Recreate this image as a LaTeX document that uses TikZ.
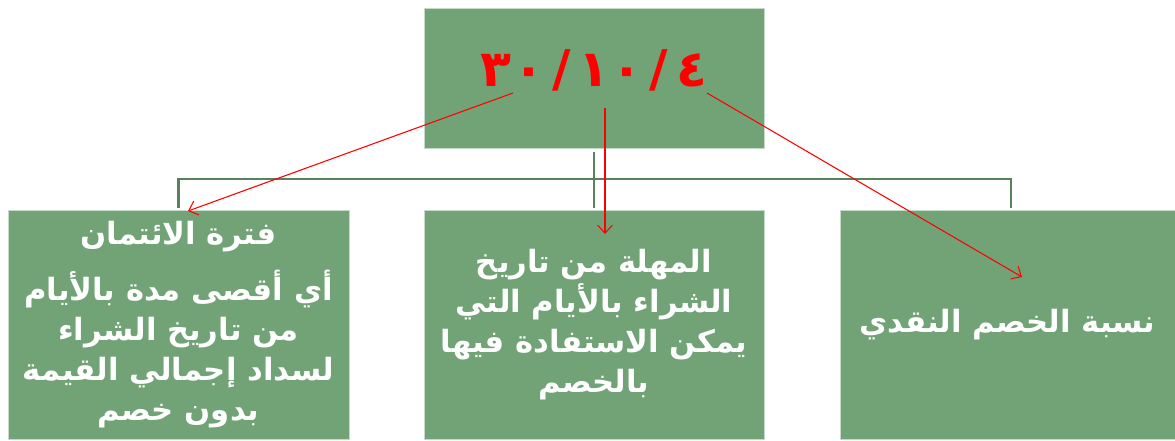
\documentclass[tikz,border=0pt]{standalone}
\usepackage{fontspec}
\setmainfont{DejaVu Sans}
\newfontfamily\arabicfont[Script=Arabic]{DejaVu Sans}
\TeXXeTstate=1
\usetikzlibrary{arrows.meta}
\definecolor{boxgreen}{RGB}{113,163,119}
\definecolor{linegreen}{RGB}{88,130,90}
\newcommand\ar[1]{\beginR #1\endR}
\newcommand\dg[1]{\makebox[24.5pt]{#1}}
\begin{document}
\begin{tikzpicture}[x=0.75pt,y=-0.75pt,
  box/.style={fill=boxgreen, draw=white!60!boxgreen, line width=0.6pt, inner sep=0pt,
    align=center, text=white, font=\arabicfont\bfseries\fontsize{23}{30}\selectfont},
  conn/.style={draw=linegreen, line width=1.6pt},
  redarrow/.style={draw=red, line width=0.8pt, -{Straight Barb[length=6pt,width=11pt]}}]
\useasboundingbox (0,0) rectangle (1175,441);
% boxes
\node[box, minimum width=340*0.75pt, minimum height=140*0.75pt] (date) at (594,78) {};
\node[text=red, inner sep=0pt, font=\arabicfont\bfseries\fontsize{38}{38}\selectfont] (datetext) at (594,70)
  {\dg{٣}\dg{٠}\dg{/}\dg{١}\dg{٠}\dg{/}\dg{٤}};
\node[box, minimum width=341*0.75pt, minimum height=229*0.75pt] (credit) at (178.5,324.5)
  {\ar{فترة الائتمان}\\[12pt]
   \ar{أي أقصى مدة بالأيام}\\
   \ar{من تاريخ الشراء}\\
   \ar{لسداد إجمالي القيمة}\\
   \ar{بدون خصم}};
\node[box, minimum width=340*0.75pt, minimum height=229*0.75pt] (period) at (594,324.5)
  {\ar{المهلة من تاريخ}\\
   \ar{الشراء بالأيام التي}\\
   \ar{يمكن الاستفادة فيها}\\
   \ar{بالخصم}};
\node[box, minimum width=335*0.75pt, minimum height=229*0.75pt] (discount) at (1007.5,324.5)
  {\ar{نسبة الخصم النقدي}};
% tree connectors
\coordinate (bus) at (594,179);
\draw[conn] ([yshift=-2.5pt]date.south) -- ([yshift=1.5pt]period.north);
\draw[conn] ([yshift=1pt]credit.north) -- (credit.north |- bus)
  -- ([xshift=2.6pt]discount.north |- bus) -- ([xshift=2.6pt,yshift=1pt]discount.north);
% red arrows
\coordinate (a1s) at (513,93);
\coordinate (a1e) at (188,211);
\coordinate (a2s) at (605,108);
\coordinate (a2e) at (605,234);
\coordinate (a3s) at (707,93);
\coordinate (a3e) at (1022,277);
\draw[redarrow] (a1s) -- (a1e);
\draw[redarrow] (a2s) -- (a2e);
\draw[redarrow] (a3s) -- (a3e);
\end{tikzpicture}
\end{document}
